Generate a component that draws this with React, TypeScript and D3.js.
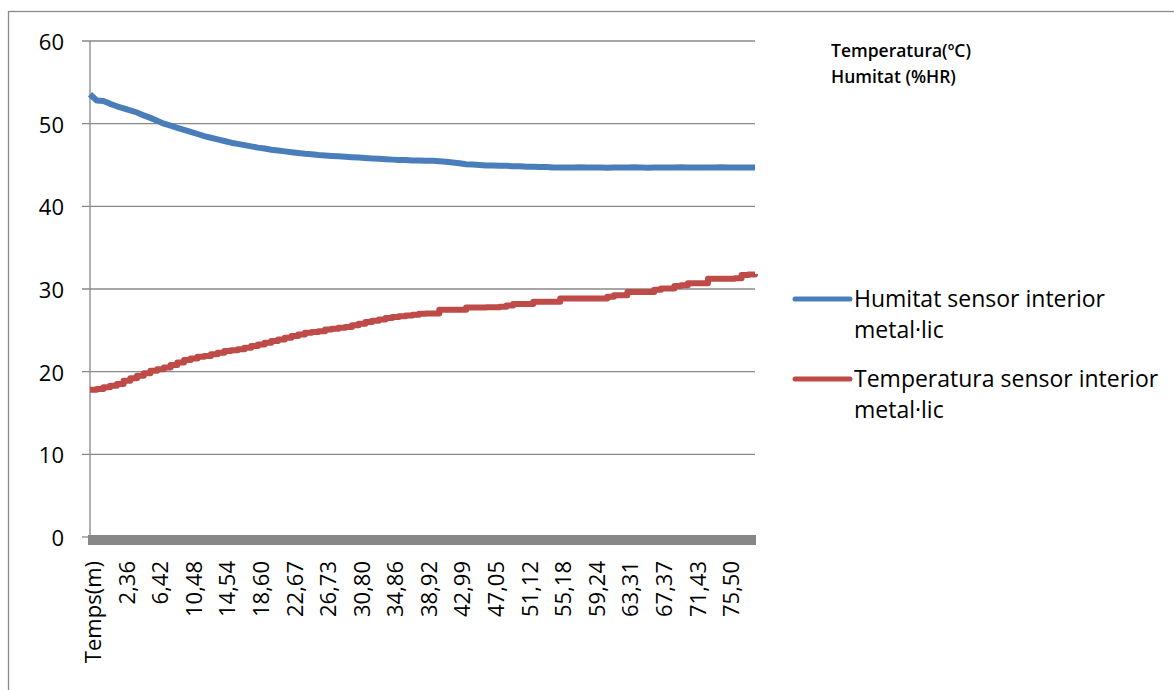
import React from "react";
import * as d3 from "d3";

const xLabels = ["Temps(m)", "2,36", "6,42", "10,48", "14,54", "18,60", "22,67", "26,73", "30,80", "34,86", "38,92", "42,99", "47,05", "51,12", "55,18", "59,24", "63,31", "67,37", "71,43", "75,50"];
const samplesPerLabel = 5;
const yTicks = [0, 10, 20, 30, 40, 50, 60];

const humitat = [
  53.55, 52.8, 52.75, 52.4, 52.1, 51.85, 51.6, 51.35, 51.0, 50.7,
  50.35, 50.0, 49.75, 49.5, 49.25, 49.0, 48.75, 48.5, 48.3, 48.1,
  47.9, 47.7, 47.55, 47.4, 47.25, 47.1, 47.0, 46.85, 46.75, 46.65,
  46.55, 46.45, 46.35, 46.3, 46.2, 46.15, 46.1, 46.05, 46.0, 45.95,
  45.9, 45.85, 45.8, 45.75, 45.7, 45.65, 45.6, 45.6, 45.55, 45.55,
  45.5, 45.5, 45.45, 45.4, 45.3, 45.2, 45.1, 45.05, 45.0, 44.95,
  44.95, 44.9, 44.9, 44.85, 44.85, 44.8, 44.8, 44.75, 44.75, 44.7,
  44.7, 44.7, 44.7, 44.72, 44.7, 44.7, 44.7, 44.68, 44.7, 44.7,
  44.7, 44.72, 44.7, 44.68, 44.7, 44.7, 44.7, 44.7, 44.72, 44.7,
  44.7, 44.7, 44.7, 44.7, 44.72, 44.7, 44.7, 44.7, 44.7, 44.7,
];

const temperatura = [
  17.8, 17.9, 18.1, 18.3, 18.5, 18.9, 19.2, 19.5, 19.8, 20.1,
  20.3, 20.5, 20.8, 21.1, 21.4, 21.6, 21.8, 21.9, 22.1, 22.3,
  22.5, 22.6, 22.7, 22.9, 23.1, 23.3, 23.5, 23.7, 23.9, 24.1,
  24.3, 24.5, 24.7, 24.8, 24.9, 25.1, 25.2, 25.3, 25.4, 25.6,
  25.8, 26.0, 26.15, 26.3, 26.5, 26.6, 26.7, 26.8, 26.9, 27.0,
  27.05, 27.05, 27.5, 27.5, 27.5, 27.5, 27.75, 27.75, 27.75, 27.8,
  27.8, 27.85, 28.0, 28.2, 28.2, 28.2, 28.45, 28.45, 28.45, 28.45,
  28.85, 28.85, 28.85, 28.85, 28.85, 28.85, 28.85, 29.05, 29.25, 29.25,
  29.65, 29.65, 29.65, 29.65, 29.9, 30.05, 30.05, 30.35, 30.45, 30.7,
  30.7, 30.7, 31.25, 31.25, 31.25, 31.25, 31.3, 31.7, 31.75, 31.8,
];

const seriesNames = ["Humitat sensor interior metal·lic", "Temperatura sensor interior metal·lic"];
const seriesColors = ["#4A7EBB", "#BE4B48"];
const unitLines = ["Temperatura(ºC)", "Humitat (%HR)"];

const W = 1174;
const H = 690;
const plot = { left: 90, right: 755, top: 41, bottom: 537 };
const font = "'Open Sans', sans-serif";
const gridColor = "#888888";

export default function App() {
  const x = d3.scaleLinear().domain([0, humitat.length - 1]).range([plot.left, plot.right]);
  const y = d3.scaleLinear().domain([0, 60]).range([plot.bottom, plot.top]);

  const humLine = d3.line<number>().x((_, i) => x(i)).y((d) => y(d)).curve(d3.curveLinear);
  const tempLine = d3.line<number>().x((_, i) => x(i)).y((d) => y(d)).curve(d3.curveStepAfter);

  const legendSwatchX1 = 795;
  const legendSwatchX2 = 850;
  const legendTextX = 854;
  const legendEntries = [
    { name: seriesNames[0], color: seriesColors[0], lineY: 299 },
    { name: seriesNames[1], color: seriesColors[1], lineY: 379 },
  ];

  return (
    <svg
      width={W}
      height={H}
      style={{ position: "absolute", left: 0, top: 0, background: "#fff" }}
      fontFamily={font}
    >
      <rect x={0} y={0} width={W} height={H} fill="#fff" />
      <rect x={8.5} y={11.5} width={W + 20} height={H + 20} fill="none" stroke="#898989" strokeWidth={1.3} />

      {yTicks.map((t) => (
        <g key={t}>
          <line
            x1={plot.left - 8}
            x2={t === 0 ? plot.left : plot.right}
            y1={y(t)}
            y2={y(t)}
            stroke={gridColor}
            strokeWidth={1.3}
          />
          <text
            x={64}
            y={y(t)}
            textAnchor="end"
            dominantBaseline="central"
            fontSize={22}
            fill="#000"
          >
            {t}
          </text>
        </g>
      ))}
      <line x1={plot.left} x2={plot.left} y1={plot.top} y2={plot.bottom} stroke={gridColor} strokeWidth={1.3} />

      <rect
        x={x.range()[0] - 2}
        y={y(0) - 2}
        width={x.range()[1] - x.range()[0] + 3}
        height={10}
        fill="#878787"
      />

      {xLabels.map((lab, i) => {
        const px = x(i * samplesPerLabel) + 2;
        const py = 561;
        return (
          <text
            key={lab}
            transform={`translate(${px},${py}) rotate(-90)`}
            textAnchor="end"
            dominantBaseline="central"
            fontSize={22}
            fill="#000"
          >
            {lab}
          </text>
        );
      })}

      <path d={humLine(humitat) || ""} fill="none" stroke={seriesColors[0]} strokeWidth={6} strokeLinejoin="round" />
      <path d={tempLine(temperatura) || ""} fill="none" stroke={seriesColors[1]} strokeWidth={6} strokeLinejoin="round" />

      <text x={831} y={57} fontSize={17.5} fontWeight={600} fill="#000">
        {unitLines[0]}
      </text>
      <text x={831} y={83} fontSize={17.5} fontWeight={600} fill="#000">
        {unitLines[1]}
      </text>

      {legendEntries.map((e) => {
        const words = e.name.split(" ");
        const line1 = words.slice(0, 3).join(" ");
        const line2 = words.slice(3).join(" ");
        return (
          <g key={e.name}>
            <line
              x1={legendSwatchX1}
              x2={legendSwatchX2}
              y1={e.lineY}
              y2={e.lineY}
              stroke={e.color}
              strokeWidth={5}
              strokeLinecap="round"
            />
            <text x={legendTextX} y={e.lineY + 8} fontSize={23} fill="#000">
              {line1}
            </text>
            <text x={legendTextX} y={e.lineY + 39} fontSize={23} fill="#000">
              {line2}
            </text>
          </g>
        );
      })}
    </svg>
  );
}
